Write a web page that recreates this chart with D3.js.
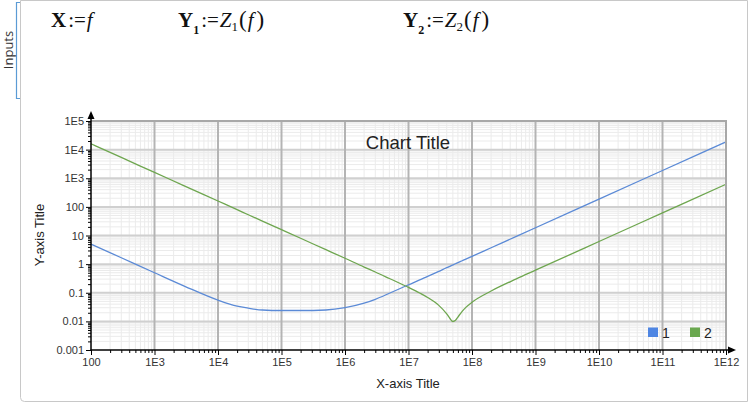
<!DOCTYPE html>
<html>
<head>
<meta charset="utf-8">
<style>
  body { margin: 0; background: #fff; }
  svg { display: block; font-family: "Liberation Sans", Arial, sans-serif; }
</style>
<script src="https://d3js.org/d3.v7.min.js"></script>
</head>
<body>
<svg id="viz" width="749" height="404"></svg>
<script>
  // frequencies (Hz) and the two impedance magnitudes
  var freq = [1e2, 3e2, 1e3, 3e3, 1e4, 2e4, 3e4, 5e4, 1e5, 2e5, 5e5, 1e6, 2e6, 3e6, 5e6, 1e7,
              1.5e7, 2e7, 3e7, 4e7, 4.5e7, 5e7, 5.5e7, 6e7, 7e7, 8e7, 1e8, 2e8, 5e8, 1e9, 1e10, 1e11, 1e12];
  var y1 = [5.0, 1.67, 0.50, 0.168, 0.055, 0.034, 0.029, 0.025, 0.024, 0.024, 0.025, 0.030, 0.043, 0.059, 0.096, 0.19,
            0.28, 0.375, 0.56, 0.75, 0.84, 0.935, 1.03, 1.12, 1.31, 1.5, 1.87, 3.74, 9.35, 18.7, 187, 1870, 18700];
  var y2 = [16000, 5330, 1600, 533, 160, 80, 53, 32, 16, 8, 3.2, 1.6, 0.79, 0.531, 0.315, 0.154,
            0.098, 0.0684, 0.0362, 0.0182, 0.0126, 0.0099, 0.0109, 0.0142, 0.0224, 0.0309, 0.0466, 0.115, 0.305, 0.613, 6.16, 61.6, 616];

  var xTicks = [1e2, 1e3, 1e4, 1e5, 1e6, 1e7, 1e8, 1e9, 1e10, 1e11, 1e12];
  var xTickLabels = ["100", "1E3", "1E4", "1E5", "1E6", "1E7", "1E8", "1E9", "1E10", "1E11", "1E12"];
  var yTicks = [1e-3, 1e-2, 1e-1, 1, 10, 100, 1e3, 1e4, 1e5];
  var yTickLabels = ["0.001", "0.01", "0.1", "1", "10", "100", "1E3", "1E4", "1E5"];

  var seriesNames = ["1", "2"];
  var lineColors = ["#5b8ad6", "#6ea64f"];
  var legendColors = ["#4f86e3", "#6aa84f"];

  var svg = d3.select("#viz");

  // outer region frame
  svg.append("path")
    .attr("d", "M20.5,0.5 L747.5,0.5 L747.5,401.5 L24.5,401.5 Q20.5,401.5 20.5,397.5 Z")
    .attr("fill", "none").attr("stroke", "#c8c8c8");

  // "Inputs" bracket
  svg.append("path")
    .attr("d", "M20,2.5 L16.5,2.5 L16.5,98.5 L20,98.5")
    .attr("fill", "none").attr("stroke", "#5b9bd5").attr("stroke-width", 1.2);
  svg.append("text")
    .attr("transform", "translate(13,50) rotate(-90)")
    .attr("text-anchor", "middle")
    .style("font-family", "'Open Sans', 'Liberation Sans', sans-serif")
    .style("font-size", "13px").style("fill", "#333")
    .text("Inputs");

  // definitions line
  var math = svg.append("g").style("font-family", "'Liberation Serif', 'DejaVu Serif', serif")
    .style("font-size", "21px").style("fill", "#111");

  function defs(px, sub) {
    var t = math.append("text").attr("x", px).attr("y", 27);
    t.append("tspan").style("font-weight", "bold").text("Y");
    t.append("tspan").attr("dy", 7).style("font-size", "12px").style("font-weight", "bold").text(sub);
    t.append("tspan").attr("dy", -7).attr("dx", 2).text(":=");
    t.append("tspan").attr("dx", 1).style("font-style", "italic").text("Z");
    t.append("tspan").attr("dy", 4).style("font-size", "13px").text(sub);
    t.append("tspan").attr("dy", -4).attr("dx", 1).style("font-size", "23px").text("(");
    t.append("tspan").attr("dx", 1).style("font-style", "italic").text("f");
    t.append("tspan").attr("dx", 3).style("font-size", "23px").text(")");
  }
  var t0 = math.append("text").attr("x", 51).attr("y", 27);
  t0.append("tspan").style("font-weight", "bold").text("X");
  t0.append("tspan").attr("dx", 2).text(":=");
  t0.append("tspan").attr("dx", 1).style("font-style", "italic").text("f");
  defs(178, "1");
  defs(403, "2");

  // plot area
  var pLeft = 91, pRight = 726, pTop = 121, pBottom = 350;
  var x = d3.scaleLog().domain([1e2, 1e12]).range([pLeft, pRight]);
  var y = d3.scaleLog().domain([1e-3, 1e5]).range([pBottom, pTop]);

  var xMinor = [], yMinor = [];
  xTicks.slice(0, -1).forEach(function(d) { for (var k = 2; k < 10; k++) xMinor.push(d * k); });
  yTicks.slice(0, -1).forEach(function(d) { for (var k = 2; k < 10; k++) yMinor.push(d * k); });

  var grid = svg.append("g");
  grid.selectAll(".xm").data(xMinor).enter().append("line")
    .attr("x1", d => x(d)).attr("x2", d => x(d)).attr("y1", pTop).attr("y2", pBottom)
    .attr("stroke", "#ebebeb").attr("stroke-width", 1);
  grid.selectAll(".ym").data(yMinor).enter().append("line")
    .attr("x1", pLeft).attr("x2", pRight).attr("y1", d => y(d)).attr("y2", d => y(d))
    .attr("stroke", "#ebebeb").attr("stroke-width", 1);
  grid.selectAll(".yM").data(yTicks.slice(1)).enter().append("line")
    .attr("x1", pLeft).attr("x2", pRight).attr("y1", d => y(d)).attr("y2", d => y(d))
    .attr("stroke", "#d0d0d0").attr("stroke-width", 2);
  grid.selectAll(".xM").data(xTicks.slice(1)).enter().append("line")
    .attr("x1", d => x(d)).attr("x2", d => x(d)).attr("y1", pTop).attr("y2", pBottom)
    .attr("stroke", "#b4b4b4").attr("stroke-width", 2);

  // chart title (under the curves)
  svg.append("text").attr("x", 408).attr("y", 149).attr("text-anchor", "middle")
    .style("font-size", "18.5px").style("fill", "#222").text("Chart Title");

  // curves
  var line = d3.line().curve(d3.curveMonotoneX);
  [y1, y2].forEach(function(ys, i) {
    svg.append("path")
      .attr("d", line(freq.map(function(f, j) { return [x(f), y(ys[j])]; })))
      .attr("fill", "none").attr("stroke", lineColors[i]).attr("stroke-width", 1.3);
  });

  // axes
  var xAxis = svg.append("g").attr("transform", "translate(0," + pBottom + ")");
  xAxis.call(d3.axisBottom(x).tickValues(xMinor).tickSize(3).tickFormat(""));
  xAxis.append("g").call(d3.axisBottom(x).tickValues(xTicks).tickSize(5).tickPadding(3)
    .tickFormat(function(d, i) { return xTickLabels[i]; }));
  xAxis.selectAll(".domain").remove();
  xAxis.selectAll("line").attr("stroke", "#000");
  xAxis.selectAll("text").style("font-size", "11px").style("fill", "#333")
    .style("font-family", "'Liberation Sans', Arial, sans-serif");

  var yAxis = svg.append("g").attr("transform", "translate(" + pLeft + ",0)");
  yAxis.call(d3.axisLeft(y).tickValues(yMinor).tickSize(3).tickFormat(""));
  yAxis.append("g").call(d3.axisLeft(y).tickValues(yTicks).tickSize(5).tickPadding(2)
    .tickFormat(function(d, i) { return yTickLabels[i]; }));
  yAxis.selectAll(".domain").remove();
  yAxis.selectAll("line").attr("stroke", "#000");
  yAxis.selectAll("text").style("font-size", "11px").style("fill", "#333")
    .style("font-family", "'Liberation Sans', Arial, sans-serif");

  // frame: grey top/right, black left/bottom with arrows
  svg.append("path").attr("d", "M" + pLeft + "," + pTop + "H" + pRight + "V" + pBottom)
    .attr("fill", "none").attr("stroke", "#a8a8a8").attr("stroke-width", 2);
  svg.append("line").attr("x1", pLeft).attr("x2", pLeft).attr("y1", pBottom + 0.5).attr("y2", pTop - 6)
    .attr("stroke", "#000").attr("stroke-width", 1.5);
  svg.append("line").attr("x1", pLeft - 0.5).attr("x2", pRight + 4).attr("y1", pBottom).attr("y2", pBottom)
    .attr("stroke", "#000").attr("stroke-width", 1.5);
  svg.append("path").attr("d", "M" + pLeft + "," + (pTop - 10) + "l-3.5,8h7z").attr("fill", "#000");
  svg.append("path").attr("d", "M" + (pRight + 10) + "," + pBottom + "l-8,-3.5v7z").attr("fill", "#000");

  // axis titles
  svg.append("text").attr("x", 408).attr("y", 388).attr("text-anchor", "middle")
    .style("font-size", "13px").style("fill", "#222").text("X-axis Title");
  svg.append("text").attr("transform", "translate(44,235) rotate(-90)").attr("text-anchor", "middle")
    .style("font-size", "13px").style("fill", "#222").text("Y-axis Title");

  // legend
  var legend = svg.append("g");
  var legendX = [648, 690];
  seriesNames.forEach(function(name, i) {
    legend.append("rect").attr("x", legendX[i]).attr("y", 327.5).attr("width", 10).attr("height", 9.5)
      .attr("fill", legendColors[i]);
    legend.append("text").attr("x", legendX[i] + 14).attr("y", 337.5)
      .style("font-size", "14px").style("fill", "#222").text(name);
  });
</script>
</body>
</html>
